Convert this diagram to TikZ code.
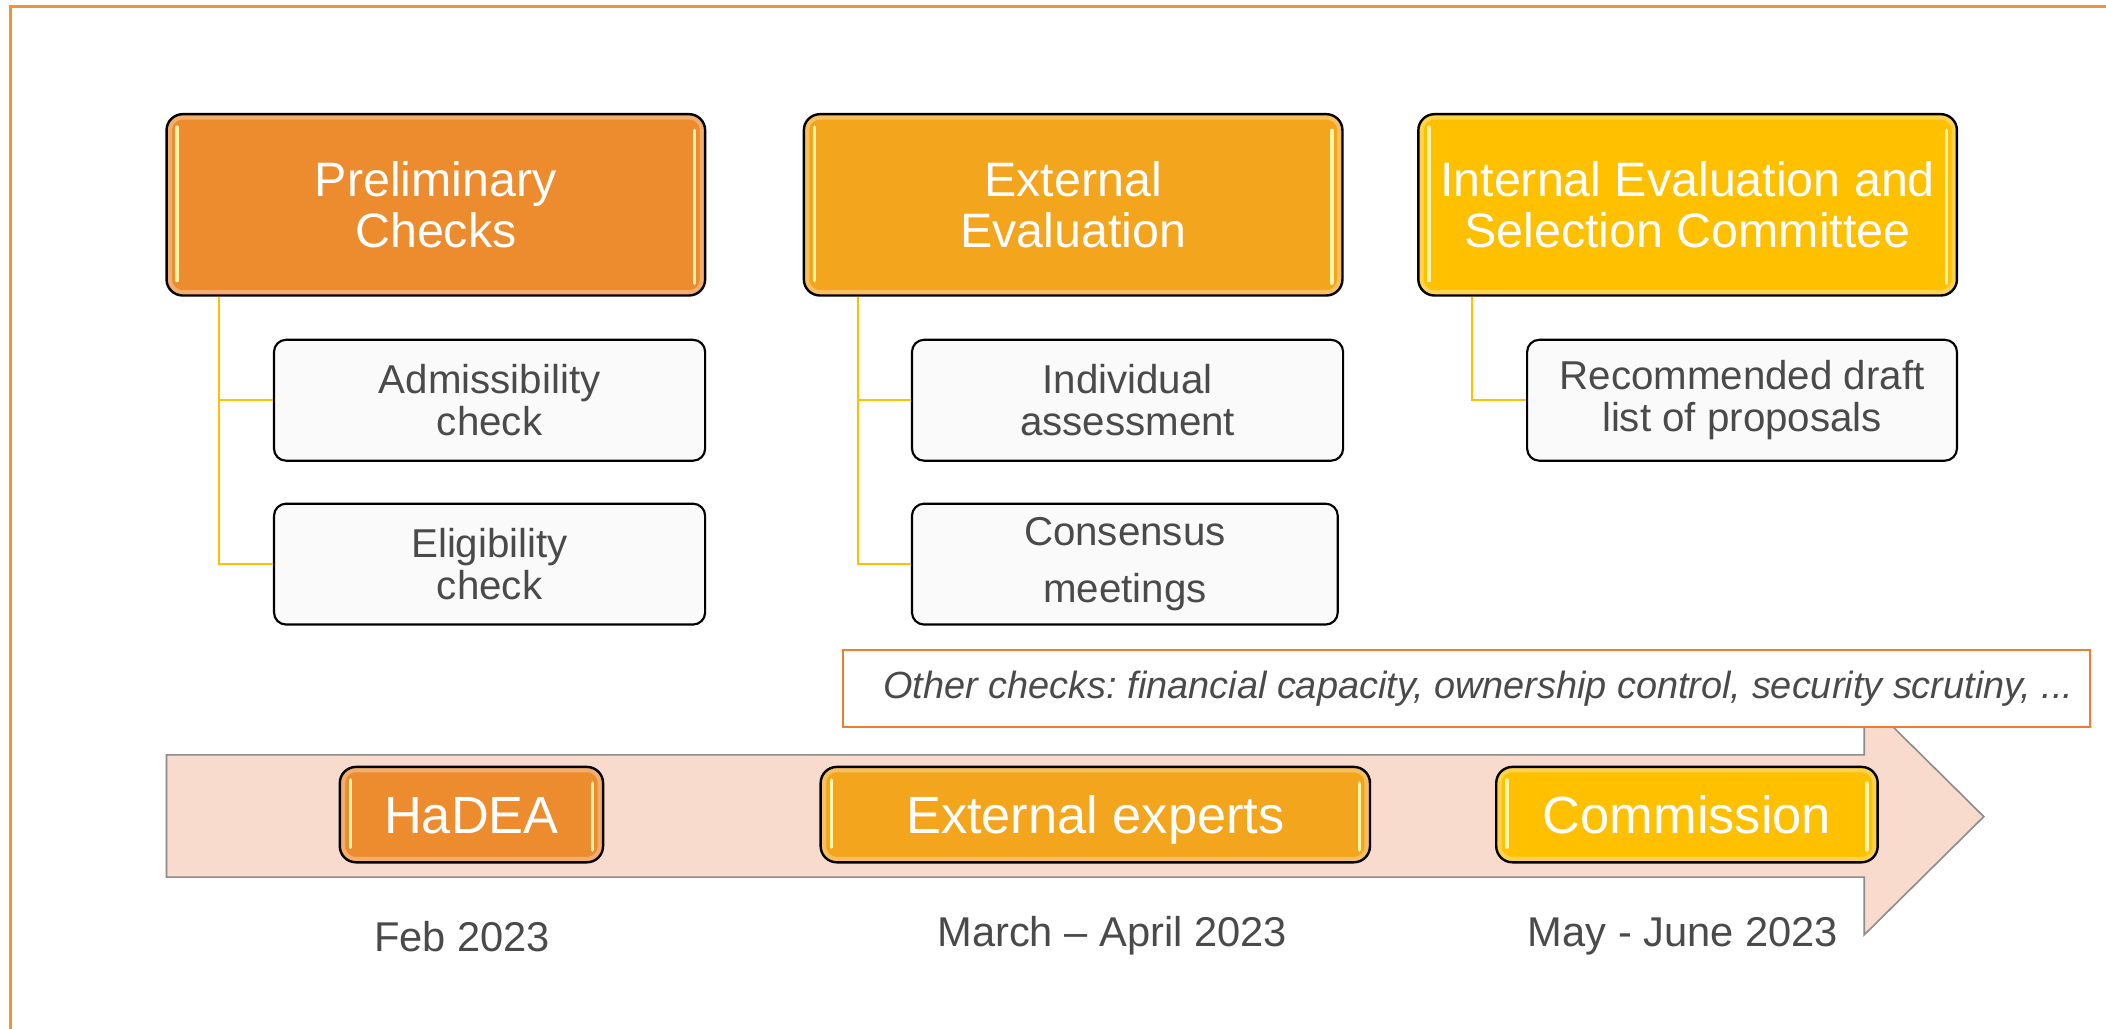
\documentclass[tikz,border=0pt]{standalone}
\usepackage{fontspec}
\setmainfont{Liberation Sans}
\frenchspacing
\definecolor{cP}{HTML}{EC8C2F}
\definecolor{cE}{HTML}{F3A51E}
\definecolor{cI}{HTML}{FFC000}
\definecolor{txtgray}{HTML}{4A4A4A}
\definecolor{linkc}{HTML}{FFC000}
\definecolor{arrowfill}{HTML}{F8DBCD}
\definecolor{arrowline}{HTML}{8C8C8C}
\definecolor{frameorange}{HTML}{F0913F}
\definecolor{checkorange}{HTML}{ED7D31}
\definecolor{glosscol}{HTML}{FFF5A8}
\definecolor{subfill}{HTML}{FAFAFA}
\newcommand\glossbars[1]{%
  \draw[glossl] ([xshift=4.4pt,yshift=-5.3pt]#1.north west) -- ([xshift=4.4pt,yshift=6pt]#1.south west);
  \draw[glossl] ([xshift=-4.4pt,yshift=-6.5pt]#1.north east) -- ([xshift=-4.4pt,yshift=5pt]#1.south east);}
\begin{document}
\begin{tikzpicture}[x=0.5pt,y=-0.5pt,
  colbox/.style={draw=black, line width=0.9pt, rounded corners=6pt, inner sep=0pt,
    text=white, align=center,
    path picture={\draw[white, opacity=0.3, line width=4pt]
      (path picture bounding box.north west) rectangle (path picture bounding box.south east);}},
  bigbox/.style={colbox, minimum width=200.5pt, minimum height=67.5pt,
    font=\fontsize{18}{18.7}\selectfont},
  timebox/.style={colbox, minimum height=35.5pt, text height=17.5pt, text depth=3.5pt,
    font=\fontsize{19.5}{21}\selectfont},
  subbox/.style={draw=black, line width=0.8pt, rounded corners=4.5pt, fill=subfill,
    inner sep=0pt, minimum height=45pt, text=txtgray, align=center,
    font=\fontsize{15}{15.5}\selectfont},
  link/.style={draw=linkc, line width=0.8pt},
  glossl/.style={draw=glosscol, line width=1.3pt, line cap=round},
  datelbl/.style={text=txtgray, font=\fontsize{15.5}{17}\selectfont, inner sep=0pt}
]
\useasboundingbox (0,0) rectangle (1568,766);
% outer frame (top and left edges visible)
\draw[frameorange, line width=1.1pt] (7.5,766) -- (7.5,4.5) -- (1568,4.5);

% timeline arrow
\draw[fill=arrowfill, draw=arrowline, line width=0.6pt]
  (124,562) -- (1388,562) -- (1388,520) -- (1477,608) -- (1388,696) -- (1388,653) -- (124,653) -- cycle;

% other checks box
\node[draw=checkorange, fill=white, line width=0.75pt, anchor=west, inner xsep=0pt,
  minimum width=463.5pt, minimum height=28.5pt, text=txtgray,
  font=\fontsize{14.1}{16}\selectfont\itshape] (oc) at (627,512.5)
  {\hspace*{15pt}Other checks: financial capacity, ownership control, security scrutiny, ...\hspace*{6pt}};

% top level boxes
\node[bigbox, fill=cP] (p) at (324.5,152.5) {Preliminary\\Checks};
\node[bigbox, fill=cE] (e) at (799,152.5) {External\\Evaluation};
\node[bigbox, fill=cI] (i) at (1256.5,152.5) {Internal Evaluation and\\Selection Committee};
\glossbars{p}\glossbars{e}\glossbars{i}

% sub boxes
\node[subbox, minimum width=160.5pt] (adm) at (364.5,298) {Admissibility\\check};
\node[subbox, minimum width=160.5pt] (eli) at (364.5,420) {Eligibility\\check};
\node[subbox, minimum width=160.5pt] (ind) at (839.5,298) {Individual\\assessment};
\node[subbox, minimum width=158.5pt, font=\fontsize{15}{21}\selectfont] (con) at (837.5,420) {Consensus\\meetings};
\node[subbox, minimum width=160pt] (rec) at (1297,298) {Recommended draft\\list of proposals};

% connectors
\draw[link] ([xshift=20pt]p.south west) |- (adm.west);
\draw[link] ([xshift=20pt]p.south west) |- (eli.west);
\draw[link] ([xshift=20.5pt]e.south west) |- (ind.west);
\draw[link] ([xshift=20.5pt]e.south west) |- (con.west);
\draw[link] ([xshift=20.5pt]i.south west) |- (rec.west);

% timeline boxes
\node[timebox, fill=cP, minimum width=98pt] (ha) at (351,606.5) {HaDEA};
\node[timebox, fill=cE, minimum width=204.5pt] (ex) at (815.5,606.5) {External experts};
\node[timebox, fill=cI, minimum width=142pt] (co) at (1256,606.5) {Commission};
\glossbars{ha}\glossbars{ex}\glossbars{co}

% dates
\node[datelbl] (d1) at (344,697) {Feb 2023};
\node[datelbl] (d2) at (828,697) {March – April 2023};
\node[datelbl] (d3) at (1253,697) {May - June 2023};
\end{tikzpicture}
\end{document}
